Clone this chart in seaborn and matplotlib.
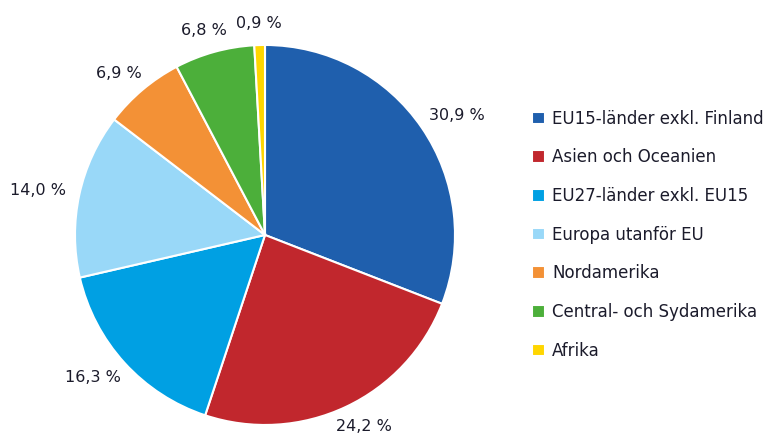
import matplotlib
matplotlib.use("Agg")
import matplotlib.pyplot as plt
import numpy as np
import seaborn as sns

regions = [
    "EU15-länder exkl. Finland",
    "Asien och Oceanien",
    "EU27-länder exkl. EU15",
    "Europa utanför EU",
    "Nordamerika",
    "Central- och Sydamerika",
    "Afrika",
]
shares = [30.9, 24.2, 16.3, 14.0, 6.9, 6.8, 0.9]
colors = ["#1f5fad", "#c1272d", "#00a0e3", "#99d8f8", "#f39136", "#4caf3a", "#ffd600"]

sns.set_theme(style="white")
plt.rcParams["font.family"] = ["DejaVu Sans"]
palette = sns.color_palette(colors)

fig = plt.figure(figsize=(7.7, 4.37), dpi=100)
ax = fig.add_axes([0.0974, 0.0275, 0.4935, 0.8696])

wedges, texts = ax.pie(
    shares,
    colors=palette,
    startangle=90,
    counterclock=False,
    wedgeprops={"edgecolor": "white", "linewidth": 1.5},
)
ax.set_aspect("equal")
ax.set_xlim(-1, 1)
ax.set_ylim(-1, 1)

# percentage labels just outside the slices (box pushed outward like Excel)
renderer = fig.canvas.get_renderer()
for w, v in zip(wedges, shares):
    ang = np.deg2rad((w.theta1 + w.theta2) / 2)
    label = f"{v:.1f} %".replace(".", ",")
    t = ax.text(0, 0, label, fontsize=11.5)
    bb = t.get_window_extent(renderer)
    t.remove()
    ax.annotate(label, xy=(1.075 * np.cos(ang), 1.075 * np.sin(ang)),
                xytext=(bb.width / 2 * np.cos(ang), bb.height / 2 * np.sin(ang)),
                textcoords="offset pixels", ha="center", va="center",
                fontsize=11.5, color="#1b1b2b", annotation_clip=False)

fig.legend(
    wedges, regions,
    loc="upper left",
    bbox_to_anchor=(0.680, 0.768),
    frameon=False,
    fontsize=12,
    handlelength=0.8,
    handleheight=0.8,
    handletextpad=0.4,
    labelspacing=1.24,
    borderpad=0,
    labelcolor="#1b1b2b",
)

fig.savefig("out.png", dpi=100)
